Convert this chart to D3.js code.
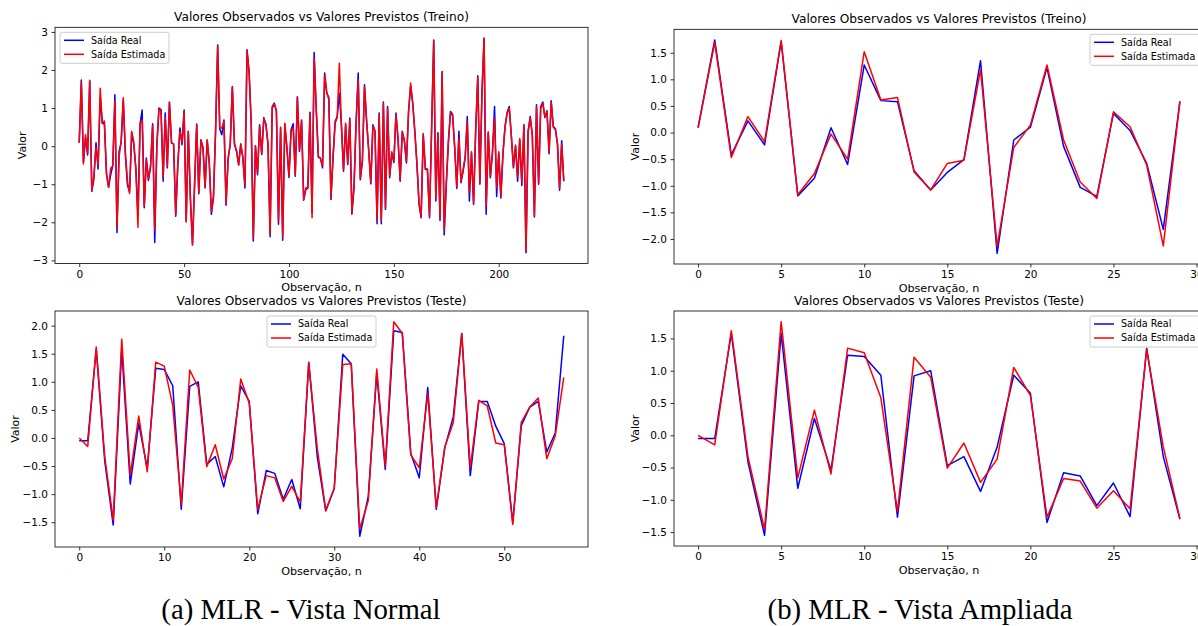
<!DOCTYPE html>
<html>
<head>
<meta charset="utf-8">
<script src="https://cdn.jsdelivr.net/npm/d3@7"></script>
<style>
  body { margin: 0; background: #fff; }
  svg { display: block; font-family: 'DejaVu Sans', sans-serif; }
</style>
</head>
<body>
<svg id="chart" width="1198" height="626"></svg>
<script>
let trainReal = [
  0.09, 1.74, -0.42, 0.22, -0.23, 1.71, -1.19, -0.86, 0.09, -0.60,
  1.27, 0.60, 0.58, -0.72, -1.08, -0.75, -0.51, 1.35, -2.27, -0.14,
  0.10, 1.22, -0.26, -1.03, -1.20, 0.36, 0.04, -0.58, -1.82, 0.58,
  0.95, -1.62, -0.31, -0.90, -0.55, 0.59, -2.53, 0.00, 1.00, 0.96,
  -0.92, 0.87, -0.57, 1.16, 0.08, 0.06, -1.84, -0.50, 0.48, 0.04,
  0.95, -1.97, 0.39, -1.40, -2.58, -1.00, 0.58, -1.25, 0.17, -0.05,
  -1.10, 0.15, -0.45, -1.79, -1.36, 0.40, 2.66, 0.45, 0.30, 0.69,
  -1.55, -0.31, 0.04, 1.57, 0.04, -0.14, -0.48, 0.06, -0.31, -1.10,
  2.53, 1.96, 0.60, -2.49, 0.00, -0.75, 0.56, -0.22, 0.75, 0.56,
  0.04, -2.38, 1.04, 1.13, 0.91, -2.05, 0.48, -2.47, 0.58, -0.05,
  -0.82, 0.43, 0.59, -0.79, 1.30, -0.14, 0.69, -1.42, -1.14, -1.10,
  0.89, -1.75, 2.46, 0.95, -0.29, -0.31, -0.57, 1.92, 1.39, 1.28,
  -1.40, -0.31, 0.65, 0.78, 1.39, 0.56, -0.66, 0.56, -0.48, 0.74,
  -1.79, -1.10, 0.65, 1.92, -0.88, -0.40, 1.61, 0.65, -0.10, -0.99,
  0.56, 0.39, -2.04, 0.87, -2.04, 1.16, -1.66, 1.04, -0.83, -0.18,
  -0.43, 0.87, 0.17, -0.92, 0.39, 0.13, -0.44, 0.91, 1.59, 1.13,
  0.39, -0.48, -1.53, -1.88, 0.30, -0.61, -0.62, -1.88, 0.50, 2.79,
  -1.44, 0.35, -1.95, 1.96, -2.33, -1.00, 0.10, 0.91, 0.84, -0.05,
  -1.11, 0.39, -0.96, -0.66, -0.31, 0.78, -1.44, -0.18, -1.53, 0.40,
  1.85, -1.00, 1.40, 2.83, -1.79, 0.35, -0.83, -0.18, 1.04, -1.32,
  -0.18, -1.36, -0.22, 0.52, 0.89, 1.04, 0.26, -0.57, 0.00, -0.92,
  0.17, -1.03, 0.56, -2.80, 0.39, 0.78, 0.30, -1.86, 1.09, -1.00,
  1.04, 1.16, 0.75, 0.93, -0.20, 1.19, 0.52, 0.46, 0.04, -1.16,
  0.14, -0.92
]
let trainEst = [
  0.09, 1.69, -0.47, 0.30, -0.17, 1.73, -1.17, -0.77, -0.03, -0.50,
  1.52, 0.61, 0.66, -0.74, -1.08, -0.58, -0.52, 1.18, -2.14, -0.28,
  0.14, 1.27, -0.14, -0.93, -1.24, 0.39, 0.11, -0.61, -2.13, 0.59,
  0.68, -1.58, -0.36, -0.86, -0.52, 0.55, -2.20, 0.02, 0.97, 0.94,
  -0.80, 0.75, -0.52, 1.14, 0.10, 0.05, -1.80, -0.46, 0.38, 0.10,
  0.90, -1.99, 0.37, -1.35, -2.60, -0.98, 0.55, -1.22, 0.15, -0.02,
  -1.08, 0.17, -0.42, -1.72, -1.30, 0.38, 2.62, 0.48, 0.48, 0.65,
  -1.52, -0.33, 0.06, 1.55, 0.08, -0.12, -0.50, 0.04, -0.28, -1.02,
  2.50, 1.90, 0.58, -2.42, 0.02, -0.70, 0.52, -0.20, 0.72, 0.58,
  0.06, -2.30, 1.00, 1.10, 0.94, -1.98, 0.50, -2.40, 0.60, -0.02,
  -0.78, 0.40, 0.48, -0.75, 1.28, -0.10, 0.66, -1.40, -1.10, -1.08,
  0.86, -1.88, 2.30, 0.98, -0.26, -0.33, -0.52, 1.86, 1.42, 1.22,
  -1.38, -0.28, 0.60, 0.75, 2.18, 0.52, -0.62, 0.60, -0.45, 0.70,
  -1.72, -1.05, 0.62, 1.75, -0.84, -0.36, 1.56, 0.68, -0.12, -0.95,
  0.52, 0.40, -1.95, 0.82, -1.95, 1.12, -1.62, 1.00, -0.78, -0.15,
  -0.40, 0.82, 0.20, -0.88, 0.36, 0.16, -0.40, 0.88, 1.66, 1.10,
  0.36, -0.45, -1.48, -1.85, 0.33, -0.58, -0.60, -1.84, 0.46, 2.76,
  -1.38, 0.32, -1.90, 1.92, -2.20, -0.95, 0.14, 0.88, 0.80, -0.02,
  -1.08, 0.21, -0.92, -0.62, -0.28, 0.65, -1.23, -0.15, -1.50, 0.42,
  1.80, -0.96, 1.38, 2.84, -1.57, 0.38, -0.80, -0.15, 0.74, -1.10,
  -0.15, -1.32, -0.18, 0.50, 0.86, 1.00, 0.28, -0.54, 0.03, -0.80,
  0.20, -0.95, 0.54, -2.78, 0.36, 0.75, 0.28, -1.82, 1.05, -0.96,
  1.00, 1.12, 0.78, 0.90, -0.16, 1.15, 0.50, 0.44, 0.07, -1.10,
  0.05, -0.90
]

// Test set, 58 observations
let testReal = [
  -0.05, -0.05, 1.58, -0.41, -1.55, 1.58, -0.82, 0.26, -0.54, 1.24,
  1.22, 0.93, -1.27, 0.92, 1.00, -0.47, -0.33, -0.87, -0.18, 0.93,
  0.65, -1.35, -0.58, -0.63, -1.09, -0.74, -1.26, 1.35, -0.33, -1.30,
  -0.90, 1.49, 1.32, -1.75, -1.04, 1.15, -0.56, 1.91, 1.88, -0.27,
  -0.71, 0.90, -1.27, -0.18, 0.38, 1.86, -0.67, 0.65, 0.65, 0.21,
  -0.10, -1.51, 0.22, 0.55, 0.65, -0.25, 0.09, 1.82
]
let testEst = [
  0.00, -0.15, 1.62, -0.33, -1.46, 1.76, -0.66, 0.39, -0.60, 1.35,
  1.28, 0.58, -1.18, 1.21, 0.90, -0.51, -0.12, -0.73, -0.37, 1.05,
  0.62, -1.27, -0.67, -0.71, -1.13, -0.86, -1.14, 1.33, -0.18, -1.29,
  -0.89, 1.31, 1.32, -1.62, -1.12, 1.23, -0.50, 2.07, 1.86, -0.30,
  -0.53, 0.79, -1.24, -0.16, 0.27, 1.86, -0.53, 0.67, 0.57, -0.09,
  -0.12, -1.54, 0.28, 0.55, 0.71, -0.37, 0.04, 1.08
]

// the "ampliada" view shows only the first observations
let zoomCount = 30

let seriesLabels = ['Saída Real', 'Saída Estimada']
let seriesColors = ['#0000ff', '#ff0000']
let titleTrain = 'Valores Observados vs Valores Previstos (Treino)'
let titleTest = 'Valores Observados vs Valores Previstos (Teste)'
let xLabel = 'Observação, n'
let yLabel = 'Valor'
let captions = ['(a) MLR - Vista Normal', '(b) MLR - Vista Ampliada']

// Tick labels
let xTicksTrain = [0, 50, 100, 150, 200]
let yTicksTrain = [-3, -2, -1, 0, 1, 2, 3]
let xTicksTest = [0, 10, 20, 30, 40, 50]
let yTicksTest = [-1.5, -1.0, -0.5, 0.0, 0.5, 1.0, 1.5, 2.0]
let xTicksZoom = [0, 5, 10, 15, 20, 25, 30]
let yTicksZoomTrain = [-2.0, -1.5, -1.0, -0.5, 0.0, 0.5, 1.0, 1.5]
let yTicksZoomTest = [-1.5, -1.0, -0.5, 0.0, 0.5, 1.0, 1.5]

let svg = d3.select('#chart')

svg
  .append('rect')
  .attr('width', 1198)
  .attr('height', 626)
  .attr('fill', '#fff')

function drawPanel(p) {
  let n = p.real.length
  let all = p.real.concat(p.est)
  let lo = d3.min(all)
  let hi = d3.max(all)
  let padY = (hi - lo) * 0.05
  let padX = (n - 1) * 0.05

  // matplotlib style 5% margins
  let xPositionScale = d3
    .scaleLinear()
    .domain([-padX, n - 1 + padX])
    .range([p.left, p.right])
  let yPositionScale = d3
    .scaleLinear()
    .domain([lo - padY, hi + padY])
    .range([p.bottom, p.top])

  let line = d3
    .line()
    .x((d, i) => xPositionScale(i))
    .y(d => yPositionScale(d))

  let g = svg.append('g')

  // the two series, real first so the estimate sits on top
  ;[p.real, p.est].forEach((values, k) => {
    g.append('path')
      .datum(values)
      .attr('d', line)
      .attr('fill', 'none')
      .attr('stroke', seriesColors[k])
      .attr('stroke-width', 1.5)
      .attr('stroke-linejoin', 'round')
  })

  // axes
  let xAxis = d3
    .axisBottom(xPositionScale)
    .tickValues(p.xTicks)
    .tickSize(3.5)
    .tickPadding(3.5)
    .tickFormat(d3.format('d'))
  g.append('g')
    .attr('class', 'axis x-axis')
    .attr('transform', 'translate(0,' + p.bottom + ')')
    .call(xAxis)

  let yAxis = d3
    .axisLeft(yPositionScale)
    .tickValues(p.yTicks)
    .tickSize(3.5)
    .tickPadding(3.5)
    .tickFormat(d3.format(p.yFormat))
  g.append('g')
    .attr('class', 'axis y-axis')
    .attr('transform', 'translate(' + p.left + ',0)')
    .call(yAxis)

  g.selectAll('.axis .domain').remove()
  g.selectAll('.axis')
    .attr('font-family', 'DejaVu Sans')
    .attr('font-size', 10.5)
  g.selectAll('.axis line')
    .attr('stroke', '#000')
    .attr('stroke-width', 0.8)
  g.selectAll('.axis text').attr('fill', '#000')

  // frame
  g.append('rect')
    .attr('x', p.left)
    .attr('y', p.top)
    .attr('width', p.right - p.left)
    .attr('height', p.bottom - p.top)
    .attr('fill', 'none')
    .attr('stroke', '#000')
    .attr('stroke-width', 0.8)

  // title and axis labels
  g.append('text')
    .text(p.title)
    .attr('x', (p.left + p.right) / 2)
    .attr('y', p.top - 6)
    .attr('text-anchor', 'middle')
    .attr('font-size', 12.2)

  g.append('text')
    .text(xLabel)
    .attr('x', (p.left + p.right) / 2)
    .attr('y', p.bottom + 27.5)
    .attr('text-anchor', 'middle')
    .attr('font-size', 11.2)

  g.append('text')
    .text(yLabel)
    .attr('transform', 'translate(' + p.yLabelX + ',' + (p.top + p.bottom) / 2 + ') rotate(-90)')
    .attr('dy', '0.35em')
    .attr('text-anchor', 'middle')
    .attr('font-size', 11)

  // legend
  let lw = 109
  let lh = 31
  let lx = p.legend === 'left' ? p.left + 5
    : p.legend === 'center' ? (p.left + p.right) / 2 - lw / 2
    : p.right - 5 - lw
  let ly = p.top + 5
  let legend = g.append('g').attr('transform', 'translate(' + lx + ',' + ly + ')')
  legend
    .append('rect')
    .attr('width', lw)
    .attr('height', lh)
    .attr('rx', 2)
    .attr('fill', '#fff')
    .attr('fill-opacity', 0.8)
    .attr('stroke', '#cccccc')
    .attr('stroke-width', 1)
  seriesLabels.forEach((label, k) => {
    let yy = 8 + k * 14
    legend
      .append('line')
      .attr('x1', 4)
      .attr('x2', 24)
      .attr('y1', yy)
      .attr('y2', yy)
      .attr('stroke', seriesColors[k])
      .attr('stroke-width', 1.5)
    legend
      .append('text')
      .text(label)
      .attr('x', 31)
      .attr('y', yy)
      .attr('dy', '0.35em')
      .attr('font-size', 9.6)
  })
}

drawPanel({
  real: trainReal, est: trainEst, title: titleTrain,
  left: 55, right: 588, top: 27.3, bottom: 263.5,
  xTicks: xTicksTrain, yTicks: yTicksTrain, yFormat: 'd',
  yLabelX: 22, legend: 'left'
})
drawPanel({
  real: testReal, est: testEst, title: titleTest,
  left: 55, right: 588, top: 311, bottom: 547,
  xTicks: xTicksTest, yTicks: yTicksTest, yFormat: '.1f',
  yLabelX: 15, legend: 'center'
})
drawPanel({
  real: trainReal.slice(0, zoomCount), est: trainEst.slice(0, zoomCount), title: titleTrain,
  left: 674, right: 1204, top: 29.3, bottom: 264,
  xTicks: xTicksZoom, yTicks: yTicksZoomTrain, yFormat: '.1f',
  yLabelX: 635, legend: 'right'
})
drawPanel({
  real: testReal.slice(0, zoomCount), est: testEst.slice(0, zoomCount), title: titleTest,
  left: 674, right: 1204, top: 311, bottom: 546,
  xTicks: xTicksZoom, yTicks: yTicksZoomTest, yFormat: '.1f',
  yLabelX: 635, legend: 'right'
})

// sub-figure captions
svg
  .selectAll('.caption')
  .data(captions)
  .enter()
  .append('text')
  .attr('class', 'caption')
  .text(d => d)
  .attr('x', (d, i) => (i === 0 ? 301 : 920))
  .attr('y', 619)
  .attr('text-anchor', 'middle')
  .attr('font-family', 'Liberation Serif')
  .attr('font-size', 28.8)
</script>
</body>
</html>
